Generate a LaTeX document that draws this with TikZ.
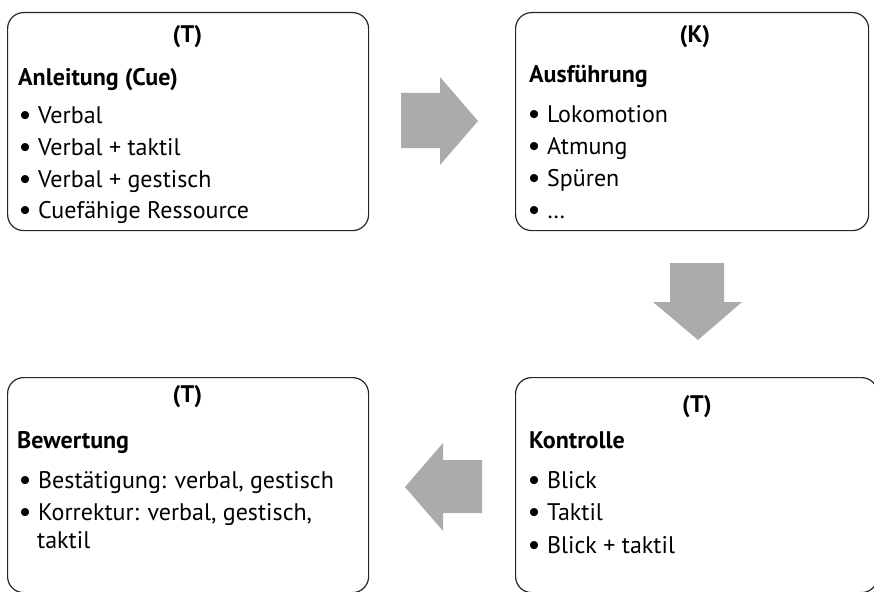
\documentclass[tikz,border=0pt]{standalone}
\usepackage{fontspec}
\setmainfont{PT Sans}
\newcommand{\bl}{\makebox[18pt][l]{\hspace{-1.5pt}\raisebox{-0.07em}{\scalebox{1.2}{•}}}}
\begin{document}
\begin{tikzpicture}[x=1pt,y=-1pt,
  box/.style={draw=black!85,line width=1.2pt,rounded corners=16pt,anchor=north west,inner sep=0pt},
  txt/.style={anchor=base west,inner sep=0pt,font=\fontsize{24}{28}\selectfont},
  ttl/.style={anchor=base west,inner sep=0pt,font=\fontsize{24}{28}\selectfont\bfseries},
  hdr/.style={anchor=base,inner sep=0pt,font=\fontsize{24}{28}\selectfont\bfseries},
  blk/.style={fill=black!33,draw=none}]
\useasboundingbox (0,0) rectangle (874,591);
% boxes
\node[box,minimum width=361pt,minimum height=218pt] (b1) at (7,12) {};
\node[box,minimum width=353pt,minimum height=218pt] (b2) at (515,12) {};
\node[box,minimum width=361pt,minimum height=215pt] (b3) at (7,377) {};
\node[box,minimum width=362pt,minimum height=215pt] (b4) at (515,377) {};
% box 1
\node[hdr] (h1) at (187.5,43) {(T)};
\node[ttl] (t1) at (18,85) {Anleitung (Cue)};
\node[txt] (i11) at (20,123) {\bl Verbal};
\node[txt] (i12) at (20,155) {\bl Verbal + taktil};
\node[txt] (i13) at (20,187) {\bl Verbal + gestisch};
\node[txt] (i14) at (20,218) {\bl Cuefähige Ressource};
% box 2
\node[hdr] (h2) at (695,43) {(K)};
\node[ttl] (t2) at (529,83) {Ausführung};
\node[txt] (i21) at (529,122) {\bl Lokomotion};
\node[txt] (i22) at (529,154) {\bl Atmung};
\node[txt] (i23) at (529,186) {\bl Spüren};
\node[txt] (i24) at (529,218) {\bl …};
% box 3
\node[hdr] (h3) at (187.5,402) {(T)};
\node[ttl] (t3) at (17,448) {Bewertung};
\node[txt] (i31) at (20,488) {\bl Bestätigung: verbal, gestisch};
\node[txt] (i32) at (20,520) {\bl Korrektur: verbal, gestisch,};
\node[txt] (i33) at (37,548) {taktil};
% box 4
\node[hdr] (h4) at (697,412) {(T)};
\node[ttl] (t4) at (529,448) {Kontrolle};
\node[txt] (i41) at (529,488) {\bl Blick};
\node[txt] (i42) at (529,520) {\bl Taktil};
\node[txt] (i43) at (529,553) {\bl Blick + taktil};
% block arrows
\fill[blk] (401,93) -- (440,93) -- (440,77) -- (478,121) -- (440,165) -- (440,148) -- (401,148) -- cycle;
\fill[blk] (670,263) -- (724,263) -- (724,302) -- (742,302) -- (698,340) -- (653,302) -- (670,302) -- cycle;
\fill[blk] (482,460) -- (443,460) -- (443,443) -- (405,487) -- (443,531) -- (443,513) -- (482,513) -- cycle;
\end{tikzpicture}
\end{document}
